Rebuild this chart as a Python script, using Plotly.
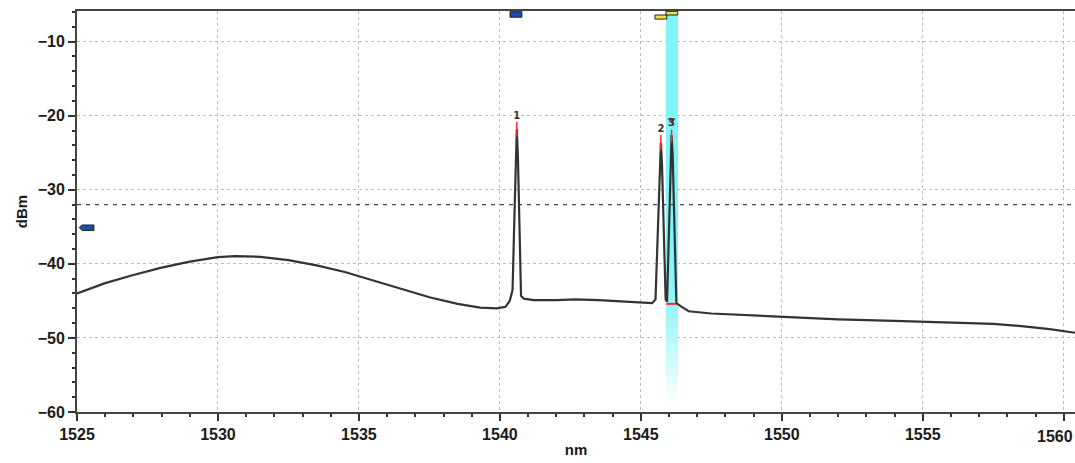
import plotly.graph_objects as go

# ---- data ----
wavelength_nm = [1525.0, 1526.0, 1527.0, 1528.0, 1529.0, 1530.0, 1530.6, 1531.5, 1532.5, 1533.5,
                 1534.5, 1535.5, 1536.5, 1537.5, 1538.5, 1539.3, 1539.9, 1540.2, 1540.35, 1540.45,
                 1540.52, 1540.56, 1540.6, 1540.64, 1540.68, 1540.75, 1540.85, 1541.2, 1542.0, 1542.7,
                 1543.5, 1544.5, 1545.4, 1545.52, 1545.62, 1545.67, 1545.71, 1545.75, 1545.8, 1545.88,
                 1545.93, 1546.0, 1546.05, 1546.09, 1546.13, 1546.18, 1546.26, 1546.45, 1546.7, 1547.5,
                 1548.5, 1550.0, 1552.0, 1554.0, 1556.0, 1557.5, 1558.5, 1559.5, 1560.4]
power_dbm = [-44.0, -42.6, -41.5, -40.5, -39.7, -39.1, -38.95, -39.05, -39.5, -40.2,
             -41.1, -42.2, -43.4, -44.5, -45.4, -45.9, -46.0, -45.8, -45.0, -43.5,
             -33.0, -25.5, -21.8, -25.5, -33.0, -44.3, -44.7, -44.9, -44.9, -44.8,
             -44.9, -45.1, -45.3, -44.8, -33.0, -26.5, -23.7, -26.5, -33.0, -44.8,
             -45.1, -35.0, -25.5, -22.6, -25.5, -35.0, -45.3, -45.8, -46.4, -46.7,
             -46.9, -47.2, -47.5, -47.7, -47.9, -48.1, -48.4, -48.8, -49.3]

peak_labels = ["1", "2", "3"]
peak_wl = [1540.6, 1545.71, 1546.09]
peak_pw = [-21.8, -23.7, -22.6]
peak_marker_top = [-20.8, -22.6, -21.9]
label_y = [-20.1, -21.9, -21.1]

threshold_dbm = -32.0
band_wl = [1545.89, 1546.32]
band_pw = [-5.86, -59.2]

noise_wl = [1545.9, 1546.25]
noise_pw = -45.4

x_range = [1525, 1560.4]
x_ticks = [1525, 1530, 1535, 1540, 1545, 1550, 1555, 1560]
x_ticktext = ["1525", "1530", "1535", "1540", "1545", "1550", "1555", ""]
edge_label = "1560"
y_range = [-60, -5.86]
y_ticks = [-60, -50, -40, -30, -20, -10]
y_ticktext = ["\u221260", "\u221250", "\u221240", "\u221230", "\u221220", "\u221210"]

fig = go.Figure()

# cyan band with vertical gradient
fig.add_trace(go.Scatter(
    x=[band_wl[0], band_wl[1], band_wl[1], band_wl[0], band_wl[0]],
    y=[band_pw[0], band_pw[0], band_pw[1], band_pw[1], band_pw[0]],
    mode="lines", line=dict(width=0), fill="toself",
    fillgradient=dict(type="vertical", start=-59.2, stop=-5.86,
                      colorscale=[[0, "rgba(255,255,255,1)"], [0.25, "rgb(150,246,249)"],
                                  [0.4, "rgb(128,244,248)"], [1, "rgb(128,244,248)"]]),
    hoverinfo="skip", showlegend=False))

# threshold dashed line
fig.add_trace(go.Scatter(x=x_range, y=[threshold_dbm, threshold_dbm], mode="lines",
                         line=dict(color="#2e4a7a", width=1.3, dash="4px,5px"),
                         hoverinfo="skip", showlegend=False))

# spectrum
fig.add_trace(go.Scatter(x=wavelength_nm, y=power_dbm, mode="lines",
                         line=dict(color="#333333", width=2.2), showlegend=False))

# red peak markers
for w, p, t in zip(peak_wl, peak_pw, peak_marker_top):
    fig.add_trace(go.Scatter(x=[w, w], y=[p - 1.0, t], mode="lines",
                             line=dict(color="#ff2a2a", width=1.5), showlegend=False, hoverinfo="skip"))

# red noise segment
fig.add_trace(go.Scatter(x=noise_wl, y=[noise_pw, noise_pw], mode="lines",
                         line=dict(color="#ff2a2a", width=2), showlegend=False, hoverinfo="skip"))

# red triangle
fig.add_trace(go.Scatter(x=[peak_wl[2]], y=[-20.6], mode="markers",
                         marker=dict(symbol="triangle-down", color="#ff2a2a", size=6,
                                     line=dict(color="#552222", width=0.5)),
                         showlegend=False, hoverinfo="skip"))

# peak labels
fig.add_trace(go.Scatter(x=peak_wl, y=label_y, mode="text", text=peak_labels,
                         textfont=dict(family="DejaVu Sans", size=10, color="#333333", weight="bold"),
                         showlegend=False, hoverinfo="skip"))

# marker flags
flags = [
    (1540.36, 1540.78, -6.7, -5.95, "#1a4fb0"),
    (1545.50, 1545.92, -6.95, -6.4, "#f2e34a"),
    (1545.89, 1546.31, -6.4, -5.9, "#f2e34a"),
]
for x0, x1, y0, y1, c in flags:
    fig.add_shape(type="rect", xref="x", yref="y", x0=x0, x1=x1, y0=y0, y1=y1,
                  fillcolor=c, line=dict(color="#222222", width=1))

# left blue arrow marker
fig.add_shape(type="path", xref="x", yref="y",
              path="M 1525.08,-35.1 L 1525.18,-34.75 L 1525.6,-34.75 L 1525.6,-35.5 L 1525.18,-35.5 Z",
              fillcolor="#1a4fb0", line=dict(color="#222222", width=1))

tickfont = dict(family="Liberation Sans", size=16, color="#1a1a1a", weight="bold")
titlefont = dict(family="Liberation Sans", size=15, color="#1a1a1a", weight="bold")

# last x tick label, right-aligned at the page edge as in the reference
fig.add_annotation(text=edge_label, xref="paper", yref="paper", x=1, y=-0.06,
                   xanchor="right", yanchor="middle", showarrow=False, font=tickfont)

fig.update_layout(
    width=1075, height=463,
    margin=dict(l=77, r=0, t=11, b=51),
    plot_bgcolor="white", paper_bgcolor="white",
    xaxis=dict(range=x_range, tickvals=x_ticks, ticktext=x_ticktext, ticks="outside", ticklen=7,
               tickwidth=2, tickcolor="#333", showline=True, linecolor="#444", linewidth=2, mirror=True,
               showgrid=True, gridcolor="#bdbdbd", griddash="dot", gridwidth=1,
               tickfont=tickfont, zeroline=False, automargin=False,
               minor=dict(dtick=1, tick0=1525, ticks="outside", ticklen=3, tickcolor="#333", showgrid=False),
               title=dict(text="nm", font=titlefont, standoff=2)),
    yaxis=dict(range=y_range, tickvals=y_ticks, ticktext=y_ticktext, ticks="outside", ticklen=7,
               tickwidth=2, tickcolor="#333", showline=True, linecolor="#444", linewidth=2,
               showgrid=True, gridcolor="#bdbdbd", griddash="dot", gridwidth=1,
               tickfont=tickfont, zeroline=False, automargin=False,
               minor=dict(dtick=2, tick0=-60, ticks="outside", ticklen=3, tickcolor="#333", showgrid=False),
               title=dict(text="dBm", font=titlefont, standoff=6)),
)

fig.write_html("out.html", config={"displayModeBar": False},
               post_script="document.body.style.margin='0';document.body.style.overflow='hidden';")
